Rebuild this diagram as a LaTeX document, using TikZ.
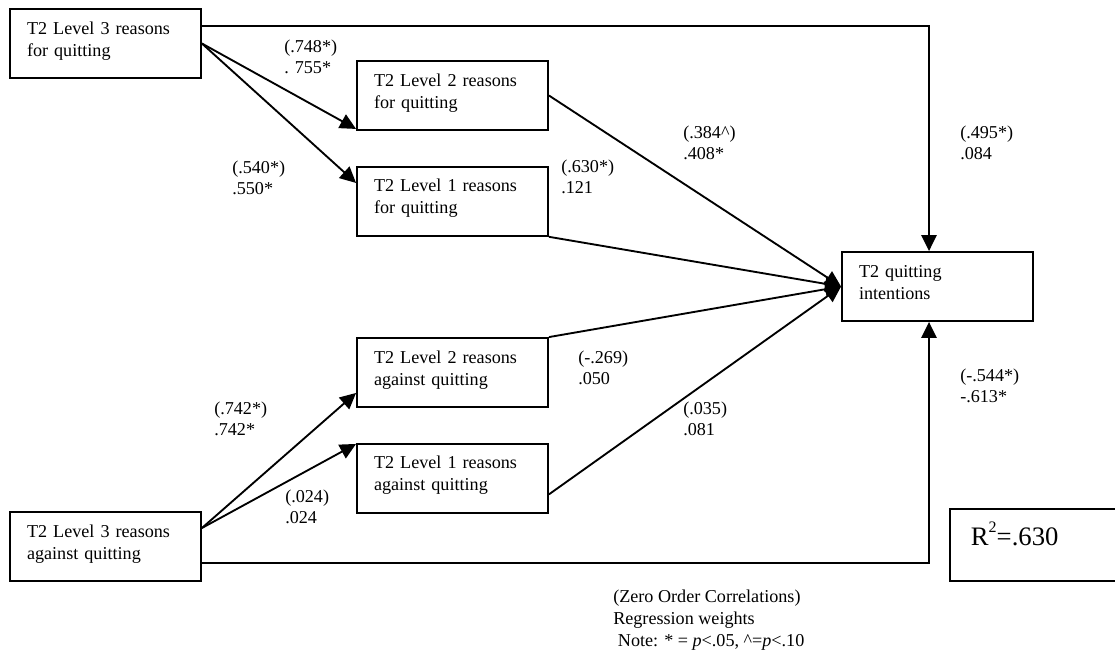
\documentclass[tikz,border=0pt]{standalone}
\usepackage{fontspec}
\setmainfont{Liberation Serif}
\usetikzlibrary{arrows.meta, positioning, calc}
\tikzset{
    reasons/.style={
        rectangle,
        draw=black,
        line width=1.4pt,
        minimum width=143.25pt,
        minimum height=51.75pt,
        text width=117.75pt,
        align=left,
        inner xsep=12.75pt,
        inner ysep=0pt,
        text height=18.75pt,
        text depth=33pt,
        font=\fontsize{13.6}{16.5}\selectfont
    },
    rsquare/.style={
        rectangle,
        draw=black,
        line width=1.4pt,
        anchor=west,
        minimum width=180pt,
        minimum height=54pt,
        text width=148.5pt,
        align=left,
        inner xsep=15.75pt,
        inner ysep=0pt,
        text height=27.6pt,
        text depth=26.4pt,
        font=\fontsize{20}{24}\selectfont
    },
    coef/.style={
        align=left,
        anchor=west,
        inner sep=0pt,
        font=\fontsize{13.6}{15.75}\selectfont
    },
    note/.style={
        align=left,
        anchor=west,
        inner sep=0pt,
        font=\fontsize{13.6}{16.5}\selectfont
    },
    link/.style={
        draw=black,
        line width=1.4pt,
        -{Triangle[length=12pt, width=11.5pt]}
    }
}

\begin{document}
\begin{tikzpicture}[x=0.75pt, y=-0.75pt]

\clip (0,0) rectangle (1115,651);

% reasons for quitting
\node[reasons] (l3for) at (105.5,43.5) {T2 Level 3 reasons\\for quitting};
\node[reasons] (l2for) at (452.5,95.5) {T2 Level 2 reasons\\for quitting};
\node[reasons, below=26.25pt of l2for] (l1for) {T2 Level 1 reasons\\for quitting};

% reasons against quitting
\node[reasons] (l2against) at (452.5,372.5) {T2 Level 2 reasons\\against quitting};
\node[reasons, below=26.25pt of l2against] (l1against) {T2 Level 1 reasons\\against quitting};
\node[reasons] (l3against) at (105.5,546.5) {T2 Level 3 reasons\\against quitting};

\node[reasons] (intent) at (937.5,286.5) {T2 quitting\\intentions};
\node[rsquare] (rsq) at (949,545) {R\raisebox{0.5em}{\fontsize{12}{12}\selectfont 2}=.630};

\draw[link] (l3for.east) -- ($(l2for.south west)+(0,-2)$);
\draw[link] (l3for.east) -- ($(l1for.north west)+(0,17)$);
\draw[link] ($(l3for.east)+(0,-17.5)$) -| ($(intent.north)+(-8.5,0)$);

\draw[link] ($(l3against.east)+(0,-18.5)$) -- ($(l2against.south west)+(0,-15)$);
\draw[link] ($(l3against.east)+(0,-18.5)$) -- ($(l1against.north west)+(0,1)$);
\draw[link] ($(l3against.east)+(0,16.5)$) -| ($(intent.south)+(-8.5,0)$);

\draw[link] (l2for.east) -- (intent.west);
\draw[link] (l1for.south east) -- (intent.west);
\draw[link] (l2against.north east) -- (intent.west);
\draw[link] ($(l1against.east)+(0,16)$) -- (intent.west);

\node[coef] (w748) at (284,57) {(.748*)\\. 755*};
\node[coef] (w540) at (232,178) {(.540*)\\.550*};
\node[coef] (w384) at (683,142.5) {(.384\textasciicircum)\\.408*};
\node[coef] (w630) at (561,177) {(.630*)\\.121};
\node[coef] (w495) at (960,142.5) {(.495*)\\.084};
\node[coef] (w269) at (578,367.5) {(-.269)\\.050};
\node[coef] (w035) at (683,419) {(.035)\\.081};
\node[coef] (w544) at (960,385.5) {(-.544*)\\-.613*};
\node[coef] (w742) at (214,419) {(.742*)\\.742*};
\node[coef] (w024) at (285,507) {(.024)\\.024};

\node[note] (legend) at (613,620) {(Zero Order Correlations)\\Regression weights\\\hspace{3.5pt}Note: * = \textit{p}<.05, \textasciicircum=\textit{p}<.10};

\end{tikzpicture}
\end{document}
